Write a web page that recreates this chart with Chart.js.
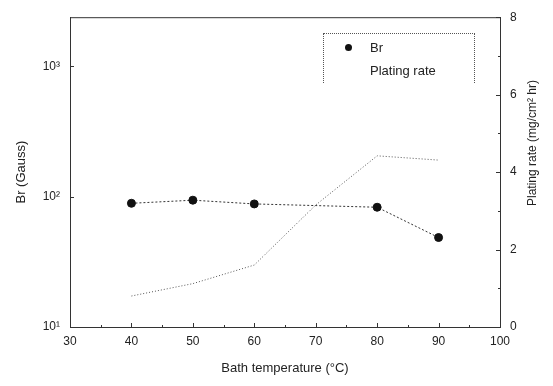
<!DOCTYPE html>
<html lang="en">
<head>
    <meta charset="UTF-8">
    <title>Br and plating rate vs bath temperature</title>
    <script src="https://cdn.jsdelivr.net/npm/chart.js"></script>
    <style>
        body {
            margin: 0;
            background: white;
            font-family: "Liberation Sans", Arial, sans-serif;
        }
        .wrap {
            position: relative;
            width: 553px;
            height: 386px;
        }
        .legend {
            position: absolute;
            left: 323px;
            top: 33px;
            width: 150px;
            height: 49px;
            border: 1px dotted #555;
            border-bottom: none;
            font-size: 13px;
            color: #222;
        }
        .legend .row {
            position: absolute;
            left: 46px;
            line-height: 16px;
        }
        .legend .dot {
            position: absolute;
            left: 21px;
            top: 10px;
            width: 7px;
            height: 7px;
            border-radius: 50%;
            background: #111;
        }
    </style>
</head>
<body>
<div class="wrap">
    <canvas id="chart" width="553" height="386"></canvas>
    <div class="legend">
        <span class="dot"></span>
        <div class="row" style="top:6px;">Br</div>
        <div class="row" style="top:29px;">Plating rate</div>
    </div>
</div>
<script>
    // values
    const brTemps = [40, 50, 60, 80, 90];
    const brValues = [89, 94, 88, 83, 48.6];          // Gauss (log axis)
    const rateTemps = [40, 50, 60, 70, 80, 90];
    const rateValues = [0.8, 1.12, 1.6, 3.15, 4.42, 4.31]; // mg/cm2 hr
    const xTicks = [30, 40, 50, 60, 70, 80, 90, 100];
    const brTicks = [10, 100, 1000];
    const brTickLabels = ['10\u00b9', '10\u00b2', '10\u00b3'];
    const rateTicks = [0, 2, 4, 6, 8];

    const fontFamily = '"Liberation Sans", Arial, sans-serif';
    const ink = '#222';

    // inward tick marks, top frame line, right axis title
    const framePlugin = {
        id: 'frame',
        afterDraw(chart) {
            const c = chart.ctx;
            const area = chart.chartArea;
            const x = chart.scales.x, yl = chart.scales.yBr, yr = chart.scales.yRate;
            c.save();
            c.strokeStyle = '#333';
            c.lineWidth = 1;
            c.beginPath();
            c.moveTo(area.left, area.top + 0.5);
            c.lineTo(area.right, area.top + 0.5);
            for (let v = 30; v <= 100; v += 5) {
                const px = Math.round(x.getPixelForValue(v)) + 0.5;
                const len = v % 10 === 0 ? 4 : 2;
                c.moveTo(px, area.bottom);
                c.lineTo(px, area.bottom - len);
            }
            brTicks.forEach(v => {
                const py = Math.round(yl.getPixelForValue(v)) + 0.5;
                c.moveTo(area.left, py);
                c.lineTo(area.left + 4, py);
            });
            for (let v = 0; v <= 8; v++) {
                const py = Math.round(yr.getPixelForValue(v)) + 0.5;
                const len = v % 2 === 0 ? 4 : 2;
                c.moveTo(area.right, py);
                c.lineTo(area.right - len, py);
            }
            c.stroke();

            c.translate(533, 143);
            c.rotate(-Math.PI / 2);
            c.fillStyle = ink;
            c.font = '12px ' + fontFamily;
            c.textAlign = 'center';
            c.textBaseline = 'middle';
            c.fillText('Plating rate (mg/cm\u00b2 hr)', 0, 0);
            c.restore();
        }
    };

    const ctx = document.getElementById('chart').getContext('2d');
    new Chart(ctx, {
        type: 'line',
        data: {
            datasets: [
                {
                    label: 'Br',
                    data: brTemps.map((t, i) => ({x: t, y: brValues[i]})),
                    xAxisID: 'x',
                    yAxisID: 'yBr',
                    borderColor: '#333',
                    borderWidth: 1,
                    borderDash: [2, 2],
                    pointRadius: 4,
                    pointBackgroundColor: '#111',
                    pointBorderColor: '#111',
                    fill: false
                },
                {
                    label: 'Plating rate',
                    data: rateTemps.map((t, i) => ({x: t, y: rateValues[i]})),
                    xAxisID: 'x',
                    yAxisID: 'yRate',
                    borderColor: '#555',
                    borderWidth: 1,
                    borderDash: [1, 2],
                    pointRadius: 0,
                    fill: false
                }
            ]
        },
        options: {
            responsive: false,
            animation: false,
            layout: {padding: {top: 12, left: 0, right: 0, bottom: 0}},
            plugins: {
                legend: {display: false},
                tooltip: {enabled: false}
            },
            scales: {
                x: {
                    type: 'linear',
                    position: 'bottom',
                    min: 30,
                    max: 100,
                    afterBuildTicks: s => { s.ticks = xTicks.map(v => ({value: v})); },
                    afterFit: s => { s.height = 59; },
                    grid: {drawOnChartArea: false, drawTicks: false},
                    border: {color: '#333', dash: [1, 1]},
                    ticks: {color: ink, padding: 7, font: {family: fontFamily, size: 12}},
                    title: {
                        display: true,
                        text: 'Bath temperature (\u00b0C)',
                        color: ink,
                        font: {family: fontFamily, size: 13},
                        padding: {top: 0, bottom: 10}
                    }
                },
                yBr: {
                    type: 'logarithmic',
                    position: 'left',
                    min: 10,
                    max: 2385,
                    afterBuildTicks: s => { s.ticks = brTicks.map(v => ({value: v})); },
                    afterFit: s => { s.width = 70; },
                    grid: {drawOnChartArea: false, drawTicks: false},
                    border: {color: '#333', dash: [1, 1]},
                    ticks: {
                        color: ink,
                        padding: 10,
                        font: {family: fontFamily, size: 12},
                        callback: v => brTickLabels[brTicks.indexOf(v)] || ''
                    },
                    title: {
                        display: true,
                        text: 'Br (Gauss)',
                        color: ink,
                        font: {family: fontFamily, size: 13},
                        padding: {top: 14, bottom: 0}
                    }
                },
                yRate: {
                    type: 'linear',
                    position: 'right',
                    min: 0,
                    max: 8,
                    afterBuildTicks: s => { s.ticks = rateTicks.map(v => ({value: v})); },
                    afterFit: s => { s.width = 53; },
                    grid: {drawOnChartArea: false, drawTicks: false},
                    border: {color: '#333', dash: [1, 1]},
                    ticks: {color: ink, padding: 10, font: {family: fontFamily, size: 12}}
                }
            }
        },
        plugins: [framePlugin]
    });
</script>
</body>
</html>
